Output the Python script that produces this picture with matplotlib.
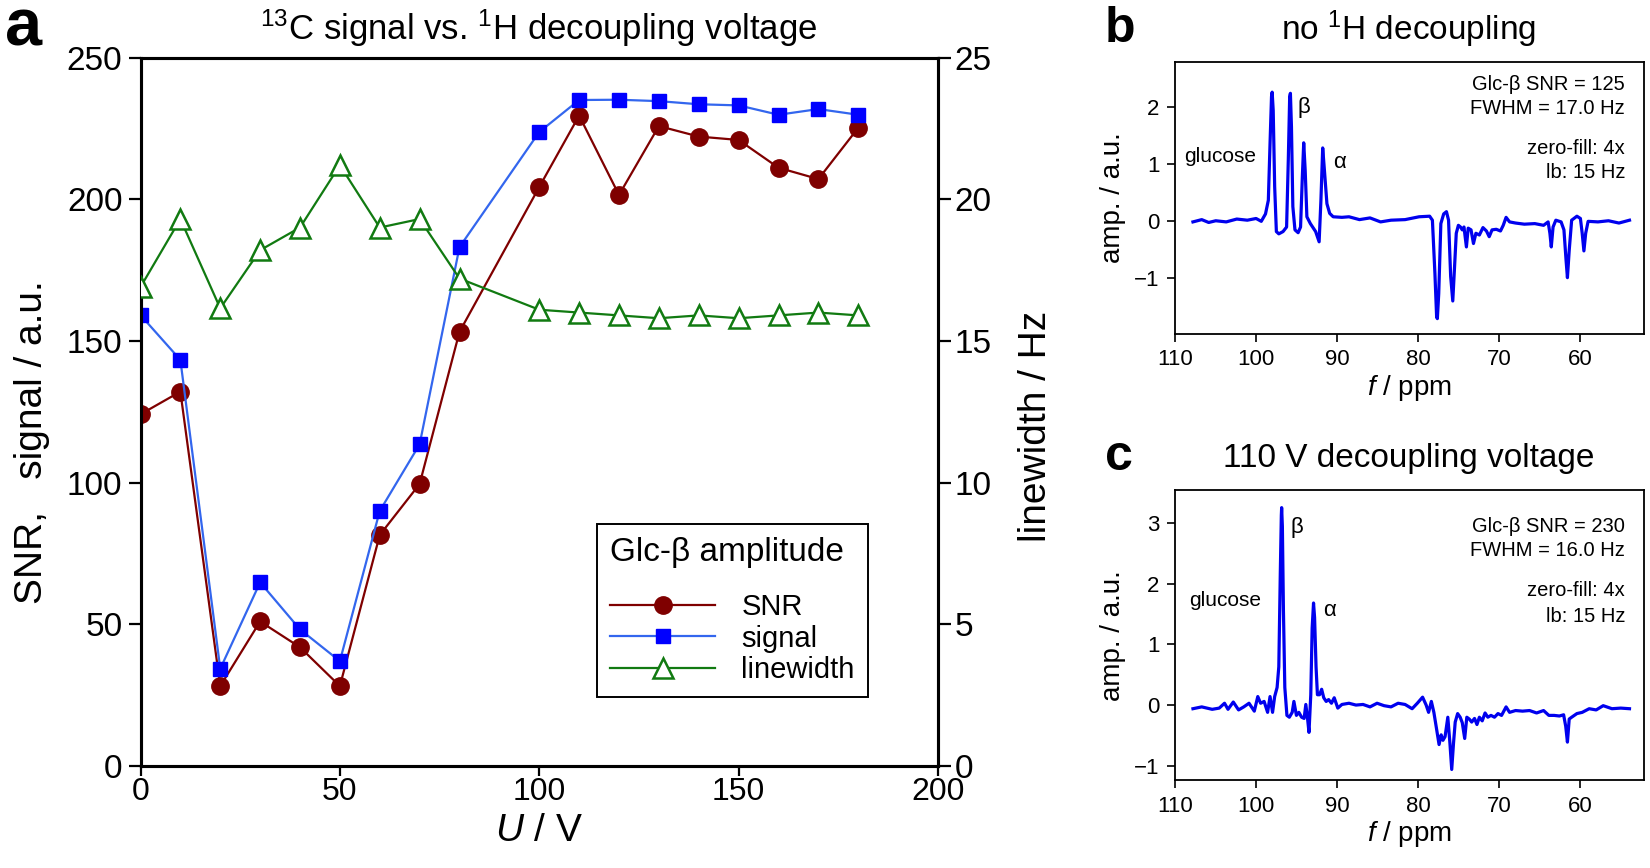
import matplotlib
matplotlib.use("Agg")
import matplotlib.pyplot as plt
from matplotlib import font_manager

# ---------------- data ----------------
U_volt = [0, 10, 20, 30, 40, 50, 60, 70, 80, 100, 110, 120, 130, 140, 150, 160, 170, 180]
snr = [124.1, 132.1, 28.2, 51.0, 41.9, 28.2, 81.5, 99.5, 153.2, 204.3, 229.5, 201.5,
       225.8, 222.1, 220.9, 211.1, 207.1, 225.2]
signal = [159.1, 143.3, 34.3, 64.8, 48.2, 37.0, 90.0, 113.5, 183.1, 223.7, 235.0, 235.1,
          234.6, 233.5, 233.1, 229.8, 231.8, 229.8]
linewidth = [16.9, 19.3, 16.15, 18.2, 19.0, 21.2, 19.0, 19.3, 17.2, 16.1, 16.0, 15.9,
             15.8, 15.9, 15.8, 15.9, 16.0, 15.9]

ppm_b = [107.75, 106.67, 105.81, 104.94, 103.65, 102.35, 101.05, 99.97, 99.33, 98.81,
         98.46, 98.25, 98.07, 97.99, 97.86, 97.68, 97.47, 97.17, 96.65, 96.21,
         96.00, 95.83, 95.74, 95.61, 95.44, 95.18, 94.79, 94.49, 94.27, 94.10,
         93.92, 93.71, 93.28, 92.63, 92.20, 91.98, 91.76, 91.55, 91.24, 90.90,
         90.47, 89.39, 88.52, 87.23, 85.93, 84.63, 83.34, 81.61, 79.88, 78.58,
         78.24, 77.93, 77.72, 77.63, 77.46, 77.20, 76.85, 76.51, 76.25, 75.99,
         75.73, 75.51, 75.30, 75.04, 74.78, 74.56, 74.35, 74.05, 73.83, 73.48,
         73.18, 72.88, 72.45, 72.01, 71.58, 71.24, 70.89, 70.37, 69.85, 69.51,
         69.16, 68.73, 67.99, 66.91, 65.62, 64.54, 63.98, 63.76, 63.59, 63.37,
         63.03, 62.38, 62.03, 61.77, 61.60, 61.38, 61.08, 60.43, 60.00, 59.78,
         59.57, 59.35, 59.05, 57.84, 56.54, 55.25, 53.95]
amp_b = [-0.02, 0.02, -0.03, 0.00, -0.02, 0.03, 0.01, 0.04, -0.01, 0.12,
         0.36, 1.36, 2.18, 2.26, 1.94, 0.60, -0.19, -0.23, -0.19, -0.11,
         1.07, 2.18, 2.24, 1.65, 0.25, -0.16, -0.21, -0.11, 0.77, 1.37,
         0.89, 0.07, -0.05, -0.19, -0.37, 0.36, 1.28, 0.89, 0.30, 0.13,
         0.07, 0.06, 0.07, 0.02, 0.05, -0.02, 0.01, 0.02, 0.07, 0.08,
         0.01, -0.93, -1.69, -1.72, -1.28, -0.05, 0.12, 0.16, 0.01, -0.98,
         -1.41, -0.81, -0.22, -0.08, -0.11, -0.16, -0.11, -0.46, -0.13, -0.16,
         -0.40, -0.22, -0.25, -0.12, -0.18, -0.28, -0.16, -0.15, -0.18, -0.08,
         0.06, -0.02, -0.04, -0.06, -0.05, -0.08, -0.02, -0.22, -0.46, -0.11,
         0.01, -0.02, -0.16, -0.69, -1.00, -0.52, 0.01, 0.08, 0.04, -0.22,
         -0.53, -0.22, -0.01, -0.02, 0.00, -0.04, 0.01]

ppm_c = [107.75, 106.67, 105.38, 104.51, 103.86, 103.43, 102.78, 102.13, 101.49, 100.84,
         100.19, 99.76, 99.41, 98.98, 98.55, 98.25, 97.94, 97.68, 97.38, 97.17,
         96.99, 96.86, 96.82, 96.73, 96.60, 96.43, 96.17, 95.87, 95.52, 95.31,
         95.00, 94.70, 94.36, 94.05, 93.84, 93.62, 93.45, 93.23, 93.06, 92.89,
         92.76, 92.58, 92.41, 92.15, 91.89, 91.63, 91.33, 91.03, 90.68, 90.34,
         89.90, 89.39, 88.52, 87.66, 86.79, 85.93, 85.06, 84.20, 83.34, 82.47,
         81.61, 80.74, 80.10, 79.45, 79.01, 78.71, 78.37, 78.06, 77.72, 77.42,
         77.16, 76.94, 76.68, 76.34, 76.08, 75.86, 75.64, 75.43, 75.13, 74.82,
         74.56, 74.26, 74.00, 73.70, 73.40, 73.05, 72.75, 72.45, 72.10, 71.75,
         71.41, 71.02, 70.59, 70.16, 69.72, 69.16, 68.73, 67.99, 67.13, 66.27,
         65.40, 64.54, 63.89, 63.24, 62.59, 62.07, 61.81, 61.60, 61.38, 61.08,
         60.43, 59.78, 58.92, 58.06, 57.19, 56.11, 55.03, 53.95]
amp_c = [-0.06, -0.03, -0.07, -0.05, 0.03, -0.07, 0.05, -0.08, -0.03, 0.03,
         -0.10, 0.14, 0.03, 0.06, -0.12, 0.14, -0.12, 0.14, 0.29, 0.63,
         2.14, 3.12, 3.25, 2.94, 1.56, 0.29, -0.17, -0.20, -0.12, 0.06,
         -0.17, -0.12, -0.20, -0.22, 0.01, -0.23, -0.45, 0.17, 1.27, 1.68,
         1.44, 0.63, 0.17, 0.17, 0.26, 0.12, 0.06, 0.09, 0.03, 0.12,
         -0.05, 0.01, 0.03, 0.00, 0.01, -0.03, 0.03, -0.01, -0.03, 0.03,
         0.01, -0.06, 0.03, 0.13, 0.00, -0.12, 0.06, -0.12, -0.40, -0.65,
         -0.49, -0.58, -0.52, -0.20, -0.63, -1.06, -0.63, -0.28, -0.14, -0.20,
         -0.29, -0.55, -0.20, -0.23, -0.28, -0.22, -0.32, -0.20, -0.26, -0.13,
         -0.20, -0.17, -0.20, -0.14, -0.17, -0.03, -0.12, -0.09, -0.10, -0.09,
         -0.13, -0.09, -0.17, -0.17, -0.18, -0.16, -0.35, -0.61, -0.23, -0.20,
         -0.14, -0.12, -0.06, -0.08, -0.01, -0.06, -0.05, -0.06]

xticks_a = [0, 50, 100, 150, 200]
yticks_left = [0, 50, 100, 150, 200, 250]
yticks_right = [0, 5, 10, 15, 20, 25]
ppm_ticks = [110, 100, 90, 80, 70, 60]
yticks_b = [-1, 0, 1, 2]
yticks_c = [-1, 0, 1, 2, 3]

# ---------------- fonts ----------------
names = {f.name for f in font_manager.fontManager.ttflist}
REG = 'Liberation Sans' if 'Liberation Sans' in names else 'DejaVu Sans'
NARROW = 'Liberation Sans Narrow' if 'Liberation Sans Narrow' in names else REG
plt.rcParams['font.family'] = [REG, 'DejaVu Sans']
plt.rcParams['mathtext.fontset'] = 'custom'
plt.rcParams['mathtext.rm'] = REG
plt.rcParams['mathtext.it'] = REG + ':italic'
plt.rcParams['mathtext.bf'] = REG + ':bold'

W, H = 1650, 868
fig = plt.figure(figsize=(W / 100, H / 100), dpi=100)


def box(l, t, r, b):
    return [l / W, 1 - b / H, (r - l) / W, (b - t) / H]


def fx(x):
    return x / W


def fy(y):
    return 1 - y / H


# ---------------- panel a ----------------
axA = fig.add_axes(box(140.5, 57.5, 938, 766))
axR = axA.twinx()

red = '#7f0000'
blue_line = '#3366ee'
blue_mk = '#0000ff'
green = '#117a11'

l1, = axA.plot(U_volt, snr, '-', color=red, lw=1.6, marker='o', ms=12.5,
               mfc=red, mec=red, label='SNR', zorder=3)
l2, = axA.plot(U_volt, signal, '-', color=blue_line, lw=1.6, marker='s', ms=10,
               mfc=blue_mk, mec=blue_mk, label='signal', zorder=3)
l3, = axR.plot(U_volt, linewidth, '-', color=green, lw=1.6, marker='^', ms=14.5,
               mfc='white', mec=green, mew=1.8, label='linewidth', zorder=3)

axA.set_xlim(0, 200)
axA.set_ylim(0, 250)
axR.set_ylim(0, 25)
axA.set_xticks(xticks_a)
axA.set_yticks(yticks_left)
axR.set_yticks(yticks_right)

for ax in (axA, axR):
    for s in ax.spines.values():
        s.set_linewidth(2.2)
    ax.tick_params(direction='out', length=9, width=1.6, labelsize=24, pad=4)
    for lab in ax.get_xticklabels() + ax.get_yticklabels():
        lab.set_fontfamily(NARROW)
axA.tick_params(axis='x', pad=1, length=7, labelsize=23)
axA.tick_params(top=False, right=False)
axR.tick_params(left=False, right=True, pad=3)

fig.text(fx(32), fy(442), 'SNR,   signal / a.u.', rotation=90, ha='center', va='center',
         fontsize=28)
fig.text(fx(1036), fy(426), 'linewidth / Hz', rotation=90, ha='center', va='center',
         fontsize=28)
fig.text(fx(539), fy(831), r'$U$ / V', ha='center', va='center', fontsize=28,
         fontfamily=NARROW)
fig.text(fx(539), fy(28), r'$^{13}$C signal vs. $^{1}$H decoupling voltage', ha='center',
         va='center', fontsize=25, fontfamily=NARROW)
fig.text(fx(24), fy(29), 'a', ha='center', va='center', fontsize=48, fontweight='bold')

leg = axR.legend(handles=[l1, l2, l3], title='Glc-β amplitude', loc='upper left',
                 bbox_to_anchor=((597 - 140.5) / 797.5, (766 - 524) / 708.5),
                 fontsize=21, title_fontsize=24, handlelength=3.6, frameon=True,
                 fancybox=False, framealpha=1, edgecolor='black', borderpad=0.45,
                 labelspacing=0.12, handletextpad=0.9, borderaxespad=0)
leg.get_frame().set_linewidth(1.4)
leg._legend_box.align = 'left'
leg._legend_box.sep = 18


# ---------------- panels b, c ----------------
def spectrum_panel(rect, ppm, amp, ylim, yticks):
    ax = fig.add_axes(rect)
    ax.plot(ppm, amp, color='#0000ee', lw=2.3)
    ax.set_xlim(110, 52.2)
    ax.set_ylim(*ylim)
    ax.set_xticks(ppm_ticks)
    ax.set_yticks(yticks)
    for s in ax.spines.values():
        s.set_linewidth(1.3)
    ax.tick_params(direction='out', length=6, width=1.2, labelsize=16, pad=5)
    ax.set_xlabel(r'$f$ / ppm', fontsize=20, labelpad=2)
    ax.set_ylabel('amp. / a.u.', fontsize=20, labelpad=6)
    return ax


axB = spectrum_panel(box(1174.7, 62, 1643.7, 334), ppm_b, amp_b, (-1.99, 2.79), yticks_b)
axC = spectrum_panel(box(1174.7, 490, 1643.7, 780.4), ppm_c, amp_c, (-1.24, 3.54), yticks_c)

fig.text(fx(1409), fy(29), r'no $^{1}$H decoupling', ha='center', va='center', fontsize=24)
fig.text(fx(1409), fy(458), '110 V decoupling voltage', ha='center', va='center', fontsize=24)
fig.text(fx(1120), fy(29), 'b', ha='center', va='center', fontsize=36, fontweight='bold')
fig.text(fx(1119), fy(457), 'c', ha='center', va='center', fontsize=36, fontweight='bold')

ann = 14.5
for (txt, y) in [('Glc-β SNR = 125', 84), ('FWHM = 17.0 Hz', 108),
                 ('zero-fill: 4x', 149), ('lb: 15 Hz', 173)]:
    fig.text(fx(1625), fy(y), txt, ha='right', va='center', fontsize=ann)
for (txt, y) in [('Glc-β SNR = 230', 526), ('FWHM = 16.0 Hz', 551),
                 ('zero-fill: 4x', 591), ('lb: 15 Hz', 616)]:
    fig.text(fx(1625), fy(y), txt, ha='right', va='center', fontsize=ann)

fig.text(fx(1220), fy(156), 'glucose', ha='center', va='center', fontsize=15)
fig.text(fx(1304), fy(108), 'β', ha='center', va='center', fontsize=16)
fig.text(fx(1340), fy(163), 'α', ha='center', va='center', fontsize=16)
fig.text(fx(1225), fy(600), 'glucose', ha='center', va='center', fontsize=15)
fig.text(fx(1297), fy(528), 'β', ha='center', va='center', fontsize=16)
fig.text(fx(1329), fy(610), 'α', ha='center', va='center', fontsize=16)

fig.savefig('out.png', dpi=100)
